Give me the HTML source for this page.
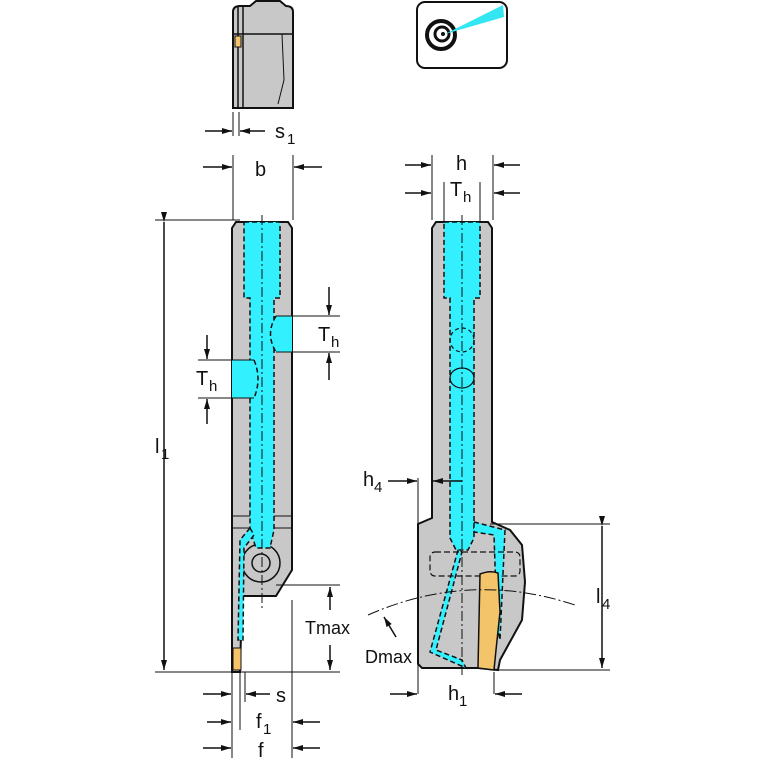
<!DOCTYPE html>
<html><head><style>
html,body{margin:0;padding:0;background:#fff;width:767px;height:767px;overflow:hidden}
text{font-family:"Liberation Sans",sans-serif;fill:#111}
</style></head><body>
<svg width="767" height="767" viewBox="0 0 767 767" xmlns="http://www.w3.org/2000/svg">
<defs>
<marker id="a" markerWidth="10" markerHeight="8" refX="10" refY="4" orient="auto" markerUnits="userSpaceOnUse"><path d="M0,1 L10,4 L0,7 Z" fill="#111"/></marker>
</defs>
<g stroke="#111" stroke-width="1.5" fill="none">
<!-- top small view -->
<path d="M233,12 Q233,6 240,6 L250,6 L256,1 L280,1 L286,6 Q293,6 293,12 L293,108 L233,108 Z" fill="#c8c8c8" stroke-width="2"/>
<line x1="238" y1="6" x2="238" y2="108"/>
<line x1="243" y1="6" x2="243" y2="108"/>
<line x1="233" y1="34" x2="293" y2="34"/>
<path d="M282,34 L284,80 L278,104" stroke-width="1"/>
<rect x="235" y="36" width="6" height="11" fill="#f3c46a" stroke-width="1"/>
<line x1="233" y1="112" x2="233" y2="136" stroke-width="1"/>
<line x1="239" y1="112" x2="239" y2="136" stroke-width="1"/>
<line x1="205" y1="131" x2="232" y2="131" marker-end="url(#a)"/>
<line x1="265" y1="131" x2="240" y2="131" marker-end="url(#a)"/>
<!-- icon -->
<rect x="417" y="2" width="90" height="66" rx="8" fill="#fff" stroke-width="2"/>
<circle cx="441" cy="35" r="14" fill="none" stroke-width="4"/>
<circle cx="442" cy="34" r="7" fill="none" stroke-width="3"/>
<circle cx="443" cy="34" r="2" fill="#111" stroke="none"/>
<path d="M445,34 L503,5 L504,17 Z" fill="#33e6f2" stroke="none"/>
<!-- b dimension -->
<line x1="233" y1="155" x2="233" y2="220" stroke-width="1"/>
<line x1="293" y1="155" x2="293" y2="220" stroke-width="1"/>
<line x1="203" y1="167" x2="232" y2="167" marker-end="url(#a)"/>
<line x1="322" y1="167" x2="294" y2="167" marker-end="url(#a)"/>
<!-- h dims -->
<line x1="432" y1="155" x2="432" y2="220" stroke-width="1"/>
<line x1="493" y1="155" x2="493" y2="220" stroke-width="1"/>
<line x1="444" y1="182" x2="444" y2="222" stroke-width="1"/>
<line x1="480" y1="182" x2="480" y2="222" stroke-width="1"/>
<line x1="405" y1="165" x2="431" y2="165" marker-end="url(#a)"/>
<line x1="520" y1="165" x2="494" y2="165" marker-end="url(#a)"/>
<line x1="405" y1="193" x2="431" y2="193" marker-end="url(#a)"/>
<line x1="520" y1="193" x2="494" y2="193" marker-end="url(#a)"/>
<!-- l1 -->
<line x1="155" y1="220" x2="240" y2="220" stroke-width="1"/>
<line x1="155" y1="672" x2="340" y2="672" stroke-width="1"/>
<line x1="164" y1="222" x2="164" y2="670" marker-start="url(#a)" marker-end="url(#a)"/>
<!-- left tool body -->
<path d="M232,228 L236,222 L288,222 L292,228 L292,570 L276,596 L242,596 L240,672 L232,672 Z" fill="#c8c8c8" stroke-width="2"/>
<line x1="232" y1="516" x2="292" y2="516" stroke-width="1"/>
<line x1="232" y1="528" x2="292" y2="528" stroke-width="1"/>
<circle cx="261" cy="563" r="19" stroke-width="1.5"/>
<circle cx="261" cy="563" r="9" stroke-width="1.5"/>
<rect x="233" y="648" width="8" height="22" fill="#f3c46a" stroke-width="1"/>
<!-- left cyan -->
<g fill="#33f0ff" stroke-dasharray="5,3">
<path d="M244,222 L280,222 L280,298 L274,298 L274,530 L270,548 L256,548 L250,530 L250,298 L244,298 Z"/>
<path d="M292,316 L276,316 Q265,334 276,352 L292,352 Z" stroke-dasharray="none" stroke="none"/>
<path d="M276,316 Q265,334 276,352" fill="none"/>
<path d="M232,360 L254,360 Q262,379 254,398 L232,398 Z" stroke="none"/>
<path d="M254,360 Q262,379 254,398" fill="none"/>
<path d="M250,528 L240,540 L238,640 L243,640 L244,548 L254,535 Z" stroke="#111"/>
</g>
<line x1="262" y1="215" x2="262" y2="610" stroke-width="1" stroke-dasharray="10,3,2,3"/>
<!-- Th right -->
<line x1="276" y1="316" x2="340" y2="316" stroke-width="1"/>
<line x1="276" y1="352" x2="340" y2="352" stroke-width="1"/>
<line x1="329" y1="287" x2="329" y2="315" marker-end="url(#a)"/>
<line x1="329" y1="380" x2="329" y2="353" marker-end="url(#a)"/>
<!-- Th left -->
<line x1="198" y1="360" x2="254" y2="360" stroke-width="1"/>
<line x1="198" y1="398" x2="254" y2="398" stroke-width="1"/>
<line x1="207" y1="335" x2="207" y2="359" marker-end="url(#a)"/>
<line x1="207" y1="424" x2="207" y2="399" marker-end="url(#a)"/>
<!-- Tmax -->
<line x1="276" y1="585" x2="340" y2="585" stroke-width="1"/>
<line x1="330" y1="610" x2="330" y2="587" marker-end="url(#a)"/>
<line x1="330" y1="645" x2="330" y2="670" marker-end="url(#a)"/>
<!-- bottom left dims -->
<line x1="232" y1="672" x2="232" y2="758" stroke-width="1"/>
<line x1="240" y1="672" x2="240" y2="730" stroke-width="1"/>
<line x1="292" y1="600" x2="292" y2="758" stroke-width="1"/>
<line x1="245" y1="672" x2="245" y2="702" stroke-width="1"/>
<line x1="203" y1="694" x2="231" y2="694" marker-end="url(#a)"/>
<line x1="270" y1="694" x2="246" y2="694" marker-end="url(#a)"/>
<line x1="207" y1="722" x2="231" y2="722" marker-end="url(#a)"/>
<line x1="320" y1="722" x2="293" y2="722" marker-end="url(#a)"/>
<line x1="203" y1="748" x2="231" y2="748" marker-end="url(#a)"/>
<line x1="320" y1="748" x2="293" y2="748" marker-end="url(#a)"/>
<!-- right tool -->
<path d="M432,228 L436,222 L488,222 L492,228 L492,522 L510,530 L522,545 L525,582 L522,620 L500,660 L498,670 L478,668 L422,668 L418,664 L418,524 L432,518 Z" fill="#c8c8c8" stroke-width="2"/>
<g fill="#33f0ff" stroke-dasharray="5,3">
<path d="M444,222 L480,222 L480,298 L474,298 L474,538 L468,550 L456,550 L450,538 L450,298 L444,298 Z"/>
<path d="M474,522 L505,530 L500,640 L497,625 L494,535 L474,532 Z" stroke="#111"/>
<path d="M458,550 L430,652 L466,668 L462,660 L436,650 L462,552 Z" stroke="#111"/>
</g>
<ellipse cx="462" cy="340" rx="12" ry="12" stroke-dasharray="4,3" stroke-width="1.2"/>
<ellipse cx="462" cy="378" rx="12" ry="10" stroke-width="1.2"/>
<rect x="430" y="552" width="90" height="24" rx="5" stroke-dasharray="6,3" stroke-width="1.2"/>
<line x1="462" y1="215" x2="462" y2="678" stroke-width="1" stroke-dasharray="10,3,2,3"/>
<path d="M480,574 Q490,570 498,573 L500,612 L496,650 L494,670 L478,668 Z" fill="#f3c46a" stroke-width="1.5"/>
<!-- Dmax arc -->
<path d="M368,615 Q470,570 575,605" stroke-width="1" stroke-dasharray="12,3,2,3"/>
<line x1="396" y1="637" x2="384" y2="617" marker-end="url(#a)"/>
<!-- h4 -->
<line x1="418" y1="478" x2="418" y2="694" stroke-width="1"/>
<line x1="388" y1="481" x2="417" y2="481" marker-end="url(#a)"/>
<line x1="462" y1="481" x2="433" y2="481" marker-end="url(#a)"/>
<!-- l4 -->
<line x1="490" y1="524" x2="610" y2="524" stroke-width="1"/>
<line x1="490" y1="670" x2="610" y2="670" stroke-width="1"/>
<line x1="602" y1="526" x2="602" y2="668" marker-start="url(#a)" marker-end="url(#a)"/>
<!-- h1 -->
<line x1="494" y1="672" x2="494" y2="694" stroke-width="1"/>
<line x1="390" y1="694" x2="417" y2="694" marker-end="url(#a)"/>
<line x1="522" y1="694" x2="495" y2="694" marker-end="url(#a)"/>
</g>
<g font-size="20">
<text x="275" y="138">s</text><text x="287" y="144" font-size="15">1</text>
<text x="255" y="176">b</text>
<text x="456" y="170">h</text>
<text x="450" y="196">T</text><text x="463" y="202" font-size="15">h</text>
<text x="318" y="341">T</text><text x="331" y="347" font-size="15">h</text>
<text x="196" y="385">T</text><text x="209" y="391" font-size="15">h</text>
<text x="155" y="453">l</text><text x="161" y="459" font-size="15">1</text>
<text x="305" y="634" font-size="18">Tmax</text>
<text x="365" y="663" font-size="18">Dmax</text>
<text x="363" y="486">h</text><text x="374" y="492" font-size="15">4</text>
<text x="596" y="603">l</text><text x="602" y="609" font-size="15">4</text>
<text x="448" y="700">h</text><text x="459" y="706" font-size="15">1</text>
<text x="276" y="702">s</text>
<text x="256" y="728">f</text><text x="263" y="734" font-size="15">1</text>
<text x="258" y="757">f</text>
</g>
</svg>
</body></html>
